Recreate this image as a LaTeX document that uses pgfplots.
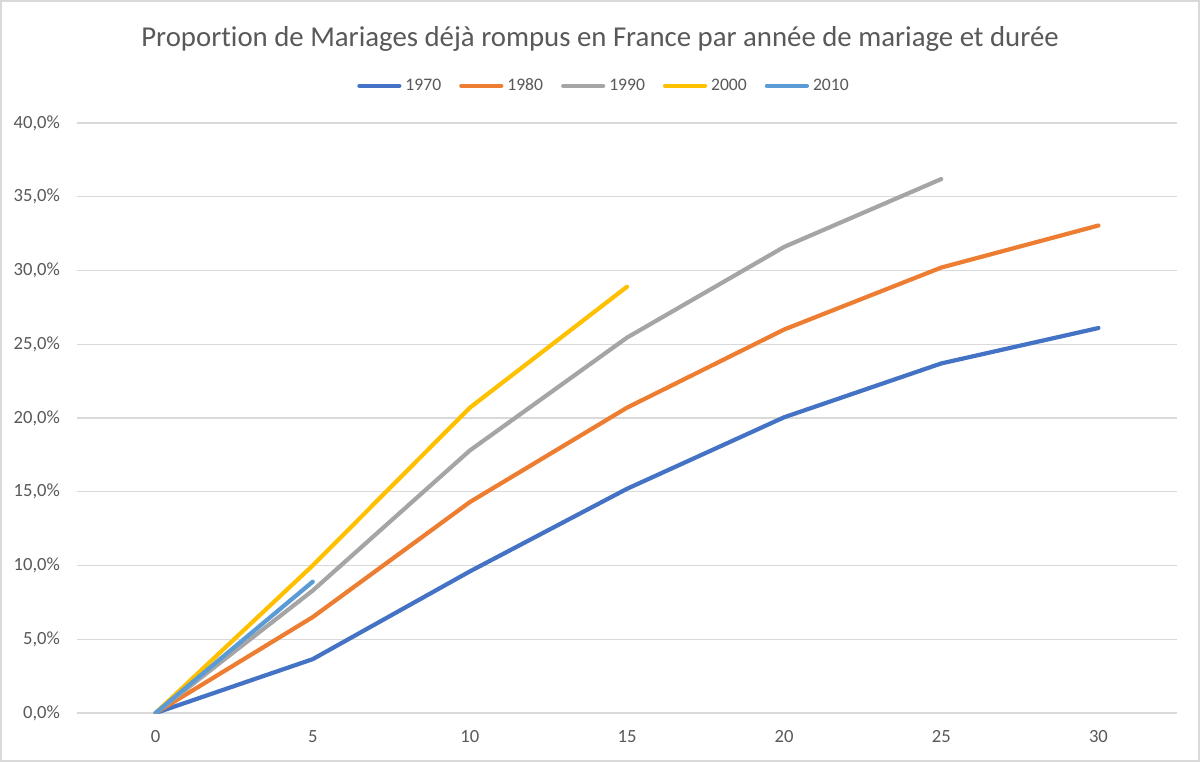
\documentclass[border=0pt]{standalone}
\usepackage{fontspec}
\setmainfont{Carlito}[Ligatures=NoCommon]
\usepackage{pgfplots}
\pgfplotsset{compat=1.18}

\definecolor{c1970}{HTML}{4472C4}
\definecolor{c1980}{HTML}{ED7D31}
\definecolor{c1990}{HTML}{A5A5A5}
\definecolor{c2000}{HTML}{FFC000}
\definecolor{c2010}{HTML}{5B9BD5}
\definecolor{txtgray}{HTML}{595959}
\definecolor{gridgray}{HTML}{D9D9D9}

\begin{document}
\begin{tikzpicture}
  % frame of the chart area (1 px = 0.5 pt)
  \fill[white] (0,0) rectangle (600pt,381pt);
  \draw[gridgray, line width=0.8pt] (0.4pt,0.4pt) rectangle (599.6pt,380.6pt);

  \begin{axis}[
      at={(38.5pt,24.5pt)}, anchor=south west,
      scale only axis,
      width=550pt, height=295pt,
      xmin=-2.5, xmax=32.5,
      ymin=0, ymax=40,
      xtick={0,5,10,15,20,25,30},
      ytick={0,5,...,40},
      ymajorgrids,
      grid style={gridgray, line width=0.7pt},
      axis line style={draw=none},
      major tick length=0pt,
      tick label style={font=\fontsize{9.3}{11}\selectfont, text=txtgray},
      /pgf/number format/assume math mode=true,
      yticklabel={\pgfmathprintnumber[fixed,fixed zerofill,precision=1,use comma]{\tick}\%},
      xticklabel style={yshift=-5pt},
      yticklabel style={xshift=-5pt},
      legend columns=5,
      legend style={at={(0.48,1.063)}, anchor=center, draw=none, fill=none,
        font=\fontsize{8.8}{11}\selectfont, text=txtgray,
        /tikz/every even column/.append style={column sep=7pt}},
      legend image code/.code={\draw[#1, line cap=round] (0pt,0pt) -- (20pt,0pt);},
      every axis plot/.append style={line width=2.1pt, line cap=round, line join=round},
    ]
    \addplot[c1970] coordinates {(0,0) (5,3.65) (10,9.6) (15,15.2) (20,20.05) (25,23.7) (30,26.1)};
    \addplot[c1980] coordinates {(0,0) (5,6.5) (10,14.3) (15,20.7) (20,26.0) (25,30.2) (30,33.05)};
    \addplot[c1990] coordinates {(0,0) (5,8.3) (10,17.8) (15,25.45) (20,31.6) (25,36.2)};
    \addplot[c2000] coordinates {(0,0) (5,10.0) (10,20.7) (15,28.9)};
    \addplot[c2010] coordinates {(0,0) (5,8.9)};
    \legend{1970,1980,1990,2000,2010}
  \end{axis}

  \node[text=txtgray, font=\fontsize{14.4}{17}\selectfont] at (300pt,361.5pt)
    {Proportion de Mariages déjà rompus en France par année de mariage et durée};
\end{tikzpicture}
\end{document}
